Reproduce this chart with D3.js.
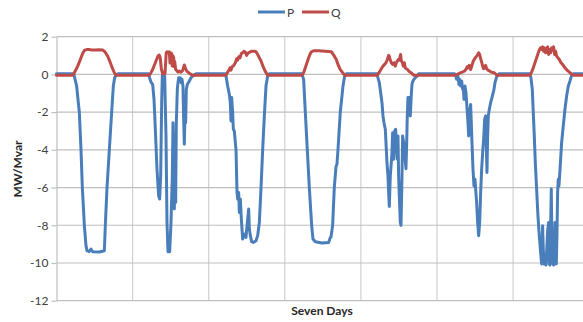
<!DOCTYPE html>
<html>
<head>
<meta charset="utf-8">
<script src="https://cdn.jsdelivr.net/npm/d3@7/dist/d3.min.js"></script>
<style>
  html, body { margin: 0; padding: 0; background: #ffffff; }
  svg { display: block; font-family: Lato, "Liberation Sans", sans-serif; }
</style>
</head>
<body>
<svg id="chart" width="583" height="322"></svg>
<script>
// Active power P (MW) over seven days, as [hour, value] samples
const pSeries = [
  [0,0.03],[5.4,0.03],[5.62,-0.09],[6.36,-0.62],[6.88,-1.5],[7.2,-2.0],[7.73,-4.0],[8.15,-6.0],[8.78,-8.0],[9.3,-9.08],[9.62,-9.35],[10.3,-9.40],[10.88,-9.26],[11.4,-9.40],[13.5,-9.42],[15.09,-9.35],[15.4,-8.0],[15.93,-6.0],[16.66,-4.0],[17.4,-2.0],[17.92,-0.62],[18.34,-0.18],[18.76,-0.04],[19.3,0.03],
  [29.0,0.03],[29.4,-0.2],[29.8,-0.41],[30.33,-0.53],[30.75,-1.32],[31.17,-2.91],[31.69,-5.03],[32.22,-6.44],[32.53,-6.61],[32.85,-5.38],[33.17,-1.5],[33.37,-0.05],[34.11,-0.05],[34.53,-3.26],[34.85,-7.85],[35.16,-9.40],[35.69,-9.40],[36.11,-7.85],[36.53,-5.38],[36.74,-2.56],[36.95,-4.67],[37.16,-7.14],[37.37,-3.26],[37.58,-6.79],[37.79,-2.56],[38.11,-0.79],[38.32,-0.44],[38.53,-0.18],[38.84,-0.35],[39.05,-0.18],[39.37,-0.44],[39.58,-0.26],[39.89,-0.62],[40.1,-2.38],[40.31,-3.70],[40.52,-2.20],[40.73,-2.56],[40.94,-0.79],[41.26,-0.53],[41.57,-0.44],[41.89,-0.35],[42.41,-0.18],[43.15,-0.05],[44.0,0.03],
  [53.25,0.03],[53.46,-0.09],[53.98,-0.62],[54.51,-1.06],[54.82,-1.5],[55.03,-2.47],[55.24,-1.23],[55.56,-2.03],[55.77,-2.91],[56.08,-3.0],[56.4,-3.62],[56.61,-3.97],[56.93,-6.26],[57.14,-6.61],[57.45,-6.26],[57.66,-7.32],[57.98,-6.61],[58.29,-7.67],[58.71,-8.73],[59.24,-8.47],[59.76,-8.64],[60.29,-7.67],[60.6,-7.14],[60.82,-8.2],[61.13,-8.55],[61.55,-8.87],[62.08,-8.91],[62.92,-8.82],[63.44,-8.55],[63.97,-7.85],[64.5,-6.0],[65.02,-4.0],[65.55,-2.2],[66.07,-0.62],[66.6,-0.09],[67.12,0.03],
  [77.42,0.03],[77.94,-0.26],[78.47,-2.0],[79.1,-4.0],[79.73,-6.0],[80.47,-8.0],[80.89,-8.73],[81.62,-8.87],[83.72,-8.94],[85.83,-8.91],[86.35,-8.64],[86.56,-8.64],[87.09,-8.0],[87.61,-6.0],[88.14,-4.9],[88.45,-4.76],[88.77,-4.0],[89.5,-2.0],[90.35,-0.62],[90.87,-0.09],[91.4,0.03],
  [101.07,0.03],[101.38,-0.18],[101.81,-0.44],[102.23,-0.97],[102.65,-1.5],[102.96,-2.2],[103.28,-2.56],[103.7,-2.91],[104.22,-4.67],[104.54,-5.38],[104.75,-6.26],[104.96,-7.0],[105.27,-5.38],[105.59,-4.67],[105.8,-4.14],[106.01,-3.09],[106.33,-4.5],[106.64,-3.0],[106.96,-2.91],[107.27,-3.97],[107.48,-4.5],[107.69,-3.26],[107.9,-5.38],[108.11,-6.44],[108.43,-7.85],[108.65,-8.0],[108.95,-5.5],[109.16,-3.26],[109.48,-3.62],[109.79,-4.14],[110.21,-5.0],[110.42,-3.8],[110.63,-2.2],[110.84,-1.23],[111.16,-2.03],[111.37,-1.23],[111.58,-2.2],[111.9,-1.06],[112.11,-0.53],[112.42,-0.35],[112.74,-0.26],[113.16,-0.18],[113.68,-0.09],[114.21,0.03],
  [125.57,0.03],[125.88,-0.05],[126.2,-0.26],[126.62,-0.09],[126.93,-0.53],[127.14,-0.26],[127.46,-0.62],[127.77,-0.35],[128.09,-0.79],[128.3,-0.7],[128.51,-1.32],[128.83,-0.62],[129.14,-0.97],[129.35,-1.5],[129.56,-2.03],[129.77,-2.56],[129.98,-3.26],[130.19,-3.09],[130.4,-1.85],[130.61,-1.59],[130.82,-2.56],[131.03,-3.62],[131.35,-5.03],[131.66,-5.91],[131.98,-5.56],[132.19,-6.08],[132.5,-6.79],[132.82,-7.85],[133.14,-8.55],[133.45,-7.85],[133.77,-6.26],[134.08,-5.03],[134.4,-4.14],[134.71,-3.44],[135.03,-2.38],[135.34,-2.2],[135.55,-3.79],[135.76,-5.2],[135.97,-3.26],[136.18,-2.2],[136.5,-1.85],[136.92,-1.5],[137.45,-1.15],[137.97,-0.79],[138.29,-0.44],[138.71,-0.18],[139.02,-0.05],[139.55,0.03],
  [149.32,0.03],[149.63,-0.18],[150.05,-0.79],[150.37,-2.03],[150.68,-3.26],[151.0,-4.67],[151.42,-6.08],[151.84,-7.5],[152.26,-8.55],[152.68,-9.44],[153.0,-10.05],[153.31,-8.02],[153.52,-9.26],[153.73,-10.05],[154.05,-9.96],[154.36,-10.11],[154.57,-9.44],[154.89,-8.3],[155.2,-7.85],[155.41,-10.05],[155.62,-10.11],[155.83,-8.2],[156.04,-6.08],[156.25,-9.0],[156.57,-10.05],[156.78,-10.11],[156.99,-9.6],[157.2,-7.85],[157.41,-9.96],[157.62,-10.05],[157.83,-8.5],[158.04,-6.26],[158.25,-5.56],[158.46,-5.91],[158.67,-5.38],[158.99,-4.5],[159.3,-3.62],[159.83,-2.73],[160.35,-1.85],[160.88,-1.15],[161.41,-0.62],[161.93,-0.35],[162.46,-0.05],[162.98,0.03],[168,0.03]
];

// Reactive power Q (Mvar) over seven days, as [hour, value] samples
const qSeries = [
  [0,-0.05],[5.1,-0.05],[5.62,0.09],[6.15,0.26],[6.68,0.44],[7.2,0.65],[7.73,0.88],[8.25,1.11],[8.78,1.27],[9.51,1.32],[10.35,1.32],[11.0,1.30],[12.46,1.30],[13.2,1.31],[14.56,1.29],[15.09,1.23],[15.61,1.11],[16.14,0.97],[16.66,0.76],[17.19,0.53],[17.71,0.30],[18.24,0.09],[18.76,-0.04],[19.3,-0.05],
  [29.0,-0.05],[29.5,0.0],[30.33,0.26],[31.38,0.71],[32.0,0.97],[32.4,1.03],[32.7,0.9],[33.06,0.3],[33.5,0.02],[34.22,0.05],[34.6,1.15],[34.85,1.2],[35.27,1.15],[35.58,1.2],[35.8,0.6],[36.0,1.15],[36.32,1.1],[36.5,0.45],[36.63,1.0],[36.95,0.9],[37.1,0.4],[37.26,0.7],[37.58,0.26],[37.9,0.21],[38.32,0.12],[38.74,0.18],[39.26,0.12],[39.79,0.21],[40.31,0.5],[40.63,0.35],[41.05,0.18],[41.68,0.09],[42.41,0.0],[42.94,-0.05],
  [53.46,-0.04],[53.98,0.12],[54.51,0.26],[54.72,0.35],[55.03,0.23],[55.35,0.41],[55.77,0.44],[56.08,0.53],[56.4,0.62],[56.82,0.83],[57.14,0.76],[57.45,0.93],[57.87,0.88],[58.29,1.11],[58.71,1.15],[59.13,1.23],[59.55,1.18],[59.97,1.01],[60.29,1.11],[60.6,1.15],[61.03,1.18],[61.45,1.23],[62.39,1.23],[62.92,1.20],[63.44,1.06],[63.97,0.88],[64.5,0.71],[65.02,0.48],[65.55,0.26],[66.07,0.09],[66.6,-0.04],
  [77.42,-0.04],[77.94,0.09],[78.47,0.35],[78.99,0.62],[79.52,0.88],[80.05,1.11],[80.57,1.22],[81.1,1.25],[82.67,1.25],[84.78,1.23],[86.67,1.20],[87.09,1.11],[87.61,0.97],[88.24,0.79],[88.77,0.53],[89.5,0.26],[90.24,0.09],[90.87,-0.04],
  [101.2,-0.04],[101.81,0.12],[102.44,0.30],[102.96,0.44],[103.49,0.53],[103.91,0.62],[104.33,0.79],[104.75,1.01],[104.96,0.97],[105.2,0.79],[105.59,0.62],[106.01,0.53],[106.43,0.62],[106.85,0.44],[107.17,0.62],[107.48,0.71],[107.8,0.79],[108.11,0.76],[108.53,1.06],[108.74,0.71],[109.06,0.65],[109.37,0.44],[109.69,0.62],[110.0,0.35],[110.32,0.30],[110.74,0.26],[111.05,0.18],[111.58,0.12],[112.11,0.05],[112.63,-0.04],
  [125.5,-0.05],[125.88,-0.04],[126.93,0.05],[127.98,0.12],[128.72,0.18],[129.25,0.30],[129.56,0.41],[129.88,0.35],[130.19,0.48],[130.61,0.26],[131.03,0.48],[131.45,0.71],[131.87,0.83],[132.3,0.93],[132.72,1.01],[133.14,1.15],[133.45,1.06],[133.77,0.83],[134.08,0.65],[134.4,0.44],[134.71,0.30],[135.03,0.35],[135.34,0.48],[135.66,0.30],[136.08,0.23],[136.6,0.18],[137.13,0.12],[137.97,0.09],[138.6,0.0],[139.23,-0.05],
  [149.32,-0.04],[149.84,0.12],[150.37,0.35],[150.89,0.62],[151.42,0.88],[151.95,1.15],[152.26,1.29],[152.68,1.41],[153.0,1.32],[153.31,1.46],[153.63,1.23],[153.94,1.41],[154.26,1.15],[154.57,1.32],[154.89,1.46],[155.2,1.06],[155.52,1.32],[155.83,1.15],[156.15,1.41],[156.47,1.29],[156.78,1.46],[157.1,1.06],[157.41,1.23],[157.73,0.97],[158.15,0.88],[158.57,0.79],[158.99,0.65],[159.62,0.53],[160.35,0.35],[161.09,0.21],[161.93,0.09],[162.67,0.0],[163.19,-0.05],[168,-0.05]
];

const yTicks = [2, 0, -2, -4, -6, -8, -10, -12];
const dayBoundaries = [0, 24, 48, 72, 96, 120, 144, 168];
const seriesNames = ["P", "Q"];
const seriesColors = ["#4a7ebb", "#be4b48"];
const xTitle = "Seven Days";
const yTitle = "MW/Mvar";

const svg = d3.select("#chart");
const W = 583, H = 322;

// Plot frame: seven equal day slots; the last slot runs past the right edge
const x = d3.scaleLinear().domain([0, 168]).range([56.5, 589.2]);
const y = d3.scaleLinear().domain([-12, 2]).range([300.7, 36.7]);

// Vertical day separators
svg.append("g")
  .selectAll("line")
  .data(dayBoundaries.slice(1))
  .join("line")
  .attr("x1", d => x(d)).attr("x2", d => x(d))
  .attr("y1", y(2)).attr("y2", y(-12))
  .attr("stroke", "#d0d0d0").attr("stroke-width", 1.2);

// Horizontal gridlines
svg.append("g")
  .selectAll("line")
  .data(yTicks)
  .join("line")
  .attr("x1", x(0)).attr("x2", W)
  .attr("y1", d => y(d)).attr("y2", d => y(d))
  .attr("stroke", "#bfbfbf").attr("stroke-width", 1.2);

// Left value axis
const yAxis = d3.axisLeft(y).tickValues(yTicks).tickSize(5).tickSizeOuter(0).tickPadding(3)
  .tickFormat(d3.format("d"));
const gy = svg.append("g").attr("transform", `translate(${x(0)},0)`).call(yAxis);
gy.select(".domain").attr("stroke", "#bfbfbf").attr("stroke-width", 1.2);
gy.selectAll(".tick line").attr("stroke", "#bfbfbf").attr("stroke-width", 1.2);
gy.selectAll(".tick text")
  .attr("fill", "#404040")
  .style("font-family", "Lato, 'Liberation Sans', sans-serif")
  .style("font-size", "12px")
  .text(d => d < 0 ? "-" + Math.abs(d) : String(d));

// Series lines
const line = d3.line().x(d => x(d[0])).y(d => y(d[1]));
[pSeries, qSeries].forEach((data, i) => {
  svg.append("path")
    .datum(data)
    .attr("d", line)
    .attr("fill", "none")
    .attr("stroke", seriesColors[i])
    .attr("stroke-width", 3)
    .attr("stroke-linejoin", "round")
    .attr("stroke-linecap", "round");
});

// Legend
const legendX = [258, 302];
const legend = svg.append("g");
seriesNames.forEach((name, i) => {
  legend.append("line")
    .attr("x1", legendX[i]).attr("x2", legendX[i] + 27)
    .attr("y1", 12).attr("y2", 12)
    .attr("stroke", seriesColors[i]).attr("stroke-width", 3);
  legend.append("text")
    .attr("x", legendX[i] + 29).attr("y", 16.5)
    .attr("fill", "#404040")
    .style("font-size", "12px")
    .text(name);
});

// Axis titles
svg.append("text")
  .attr("x", 322).attr("y", 315)
  .attr("text-anchor", "middle")
  .attr("fill", "#262626")
  .style("font-size", "12px").style("font-weight", "bold")
  .text(xTitle);

svg.append("text")
  .attr("transform", "translate(21.5,169) rotate(-90)")
  .attr("text-anchor", "middle")
  .attr("fill", "#262626")
  .style("font-size", "12px").style("font-weight", "bold")
  .text(yTitle);
</script>
</body>
</html>
